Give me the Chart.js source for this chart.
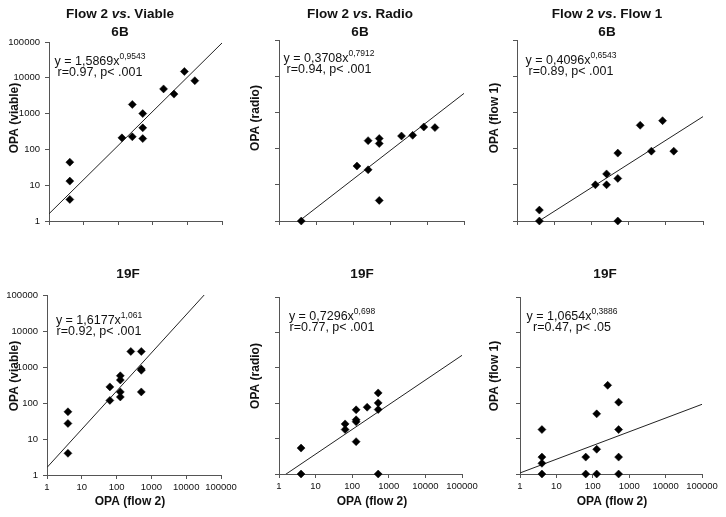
<!DOCTYPE html>
<html>
<head>
<meta charset="utf-8">
<script src="https://cdn.jsdelivr.net/npm/chart.js@4.4.1/dist/chart.umd.min.js"></script>
<style>
  html, body { margin: 0; padding: 0; background: #fff; }
  #wrap { position: relative; width: 726px; height: 517px; }
  #wrap canvas { position: absolute; left: 0; top: 0; }
</style>
</head>
<body>
<div id="wrap"></div>
<script>
// decade ticks shared by every log axis
const decadeTicks = [1, 10, 100, 1000, 10000, 100000];

// 6B - flow 2 vs viable
const p1X = [4, 4, 4, 128, 256, 256, 512, 512, 512, 2048, 4096, 8192, 16384];
const p1Y = [44, 13, 4, 210, 225, 1800, 1000, 400, 200, 4900, 3500, 15000, 8300];
const p1Fit = [[1, 1.59], [100000, 93800]];

// 6B - flow 2 vs radio
const p2X = [4, 128, 256, 256, 512, 512, 512, 2048, 4096, 8192, 16384];
const p2Y = [1, 33, 26, 166, 190, 138, 3.7, 223, 233, 395, 380];
const p2Fit = [[1, 0.37], [100000, 3350]];

// 6B - flow 2 vs flow 1
const p3X = [4, 4, 128, 256, 256, 512, 512, 512, 2048, 4096, 8192, 16384];
const p3Y = [1, 2, 10, 10, 20, 15, 75, 1, 440, 85, 590, 85];
const p3Fit = [[1, 0.41], [100000, 765]];

// 19F - flow 2 vs viable
const p4X = [4, 4, 4, 64, 64, 128, 128, 128, 128, 256, 512, 512, 512, 512];
const p4Y = [57, 27, 4, 280, 118, 570, 435, 203, 147, 2700, 2700, 875, 810, 203];
const p4Fit = [[1, 1.62], [100000, 326000]];

// 19F - flow 2 vs radio
const p5X = [4, 4, 64, 64, 128, 128, 128, 128, 256, 512, 512, 512, 512];
const p5Y = [5.4, 1, 26, 18, 65, 34, 30, 8.2, 77, 195, 102, 66, 1];
const p5Fit = [[1, 0.73], [100000, 2250]];

// 19F - flow 2 vs flow 1
const p6X = [4, 4, 4, 4, 64, 64, 128, 128, 128, 256, 512, 512, 512, 512];
const p6Y = [18, 3, 2, 1, 3, 1, 50, 5, 1, 320, 107, 18, 3, 1];
const p6Fit = [[1, 1.07], [100000, 93]];

const FONT = 'Arial, "Liberation Sans", Helvetica, sans-serif';
const AXIS = '#555';
const INK = '#111';
const Y_W = 45, X_H = 40;

const panels = [
  { area: [49, 42, 222, 221], xs: p1X, ys: p1Y, fit: p1Fit, yLabels: true, xLabels: false,
    title: [[['Flow 2 ', 0], ['vs', 1], ['. Viable', 0]], [['6B', 0]]], tx: 120, ty: [14, 32],
    eq: ['y = 1,5869x', '0,9543', 'r=0.97, p< .001'], ex: 100, ey: 62,
    yTitle: 'OPA (viable)', yx: 15, yy: 118 },
  { area: [279, 40, 464, 221], xs: p2X, ys: p2Y, fit: p2Fit, yLabels: false, xLabels: false,
    title: [[['Flow 2 ', 0], ['vs', 1], ['. Radio', 0]], [['6B', 0]]], tx: 360, ty: [14, 32],
    eq: ['y = 0,3708x', '0,7912', 'r=0.94, p< .001'], ex: 329, ey: 59,
    yTitle: 'OPA (radio)', yx: 256, yy: 118 },
  { area: [517, 40, 703, 221], xs: p3X, ys: p3Y, fit: p3Fit, yLabels: false, xLabels: false,
    title: [[['Flow 2 ', 0], ['vs', 1], ['. Flow 1', 0]], [['6B', 0]]], tx: 607, ty: [14, 32],
    eq: ['y = 0,4096x', '0,6543', 'r=0.89, p< .001'], ex: 571, ey: 61,
    yTitle: 'OPA (flow 1)', yx: 495, yy: 118 },
  { area: [47, 295, 221, 475], xs: p4X, ys: p4Y, fit: p4Fit, yLabels: true, xLabels: true,
    title: [[['19F', 0]]], tx: 128, ty: [274],
    eq: ['y = 1,6177x', '1,061', 'r=0.92, p< .001'], ex: 99, ey: 321,
    yTitle: 'OPA (viable)', yx: 15, yy: 376, xTitle: 'OPA (flow 2)', xx: 130, xy: 502 },
  { area: [279, 297, 462, 474], xs: p5X, ys: p5Y, fit: p5Fit, yLabels: false, xLabels: true,
    title: [[['19F', 0]]], tx: 362, ty: [274],
    eq: ['y = 0,7296x', '0,698', 'r=0.77, p< .001'], ex: 332, ey: 317,
    yTitle: 'OPA (radio)', yx: 256, yy: 376, xTitle: 'OPA (flow 2)', xx: 372, xy: 502 },
  { area: [520, 297, 702, 474], xs: p6X, ys: p6Y, fit: p6Fit, yLabels: false, xLabels: true,
    title: [[['19F', 0]]], tx: 605, ty: [274],
    eq: ['y = 1,0654x', '0,3886', 'r=0.47, p< .05'], ex: 572, ey: 317,
    yTitle: 'OPA (flow 1)', yx: 495, yy: 376, xTitle: 'OPA (flow 2)', xx: 612, xy: 502 }
];

// draws titles, fit equation and axis titles for one panel
const panelText = {
  id: 'panelText',
  afterDraw(chart, args, p) {
    const ctx = chart.ctx;
    ctx.save();
    ctx.fillStyle = INK;
    ctx.textBaseline = 'middle';
    ctx.textAlign = 'left';

    // title lines, some words in italics
    p.title.forEach((line, i) => {
      let w = 0;
      line.forEach(([t, it]) => { ctx.font = (it ? 'italic ' : '') + 'bold 13.5px ' + FONT; w += ctx.measureText(t).width; });
      let x = p.tx - w / 2;
      line.forEach(([t, it]) => {
        ctx.font = (it ? 'italic ' : '') + 'bold 13.5px ' + FONT;
        ctx.fillText(t, x, p.ty[i]);
        x += ctx.measureText(t).width;
      });
    });

    // equation with superscript exponent
    ctx.font = '12.5px ' + FONT;
    const w1 = ctx.measureText(p.eq[0]).width;
    ctx.font = '8.5px ' + FONT;
    const w2 = ctx.measureText(p.eq[1]).width;
    const x0 = p.ex - (w1 + w2) / 2;
    ctx.font = '12.5px ' + FONT;
    ctx.fillText(p.eq[0], x0, p.ey);
    ctx.font = '8.5px ' + FONT;
    ctx.fillText(p.eq[1], x0 + w1, p.ey - 5);
    ctx.font = '12.5px ' + FONT;
    ctx.textAlign = 'center';
    ctx.fillText(p.eq[2], p.ex, p.ey + 11);

    // axis titles
    ctx.font = 'bold 12px ' + FONT;
    ctx.save();
    ctx.translate(p.yx, p.yy);
    ctx.rotate(-Math.PI / 2);
    ctx.fillText(p.yTitle, 0, 0);
    ctx.restore();
    if (p.xTitle) ctx.fillText(p.xTitle, p.xx, p.xy);
    ctx.restore();
  }
};

const wrap = document.getElementById('wrap');

panels.forEach(p => {
  const cv = document.createElement('canvas');
  cv.width = 726; cv.height = 517;
  wrap.appendChild(cv);
  const [l, t, r, b] = p.area;

  const axisOpts = (showLabels, isX) => ({
    type: 'logarithmic',
    min: 1,
    max: 100000,
    afterBuildTicks: s => { s.ticks = decadeTicks.map(v => ({ value: v })); },
    afterFit: s => { if (isX) s.height = X_H; else s.width = Y_W; },
    grid: { drawOnChartArea: false, drawTicks: true, tickLength: 4, color: AXIS },
    border: { display: true, color: AXIS, width: 1 },
    ticks: {
      display: showLabels,
      autoSkip: false,
      maxRotation: 0,
      padding: isX ? 3 : 5,
      color: INK,
      font: { family: FONT, size: 9.5 },
      callback: v => String(v)
    }
  });

  new Chart(cv, {
    type: 'scatter',
    data: {
      datasets: [
        {
          data: p.xs.map((x, i) => ({ x, y: p.ys[i] })),
          pointStyle: 'rectRot',
          pointRadius: 4,
          pointBackgroundColor: '#000',
          pointBorderColor: '#000',
          pointBorderWidth: 0.5,
          clip: false
        },
        {
          type: 'line',
          data: p.fit.map(([x, y]) => ({ x, y })),
          borderColor: '#222',
          borderWidth: 1,
          pointRadius: 0,
          fill: false
        }
      ]
    },
    options: {
      responsive: false,
      animation: false,
      devicePixelRatio: 1,
      layout: { padding: { left: l - Y_W, top: t, right: 726 - r, bottom: 517 - b - X_H } },
      plugins: { legend: { display: false }, tooltip: { enabled: false }, panelText: p },
      events: [],
      scales: { x: axisOpts(p.xLabels, true), y: axisOpts(p.yLabels, false) }
    },
    plugins: [panelText]
  });
});
</script>
</body>
</html>
